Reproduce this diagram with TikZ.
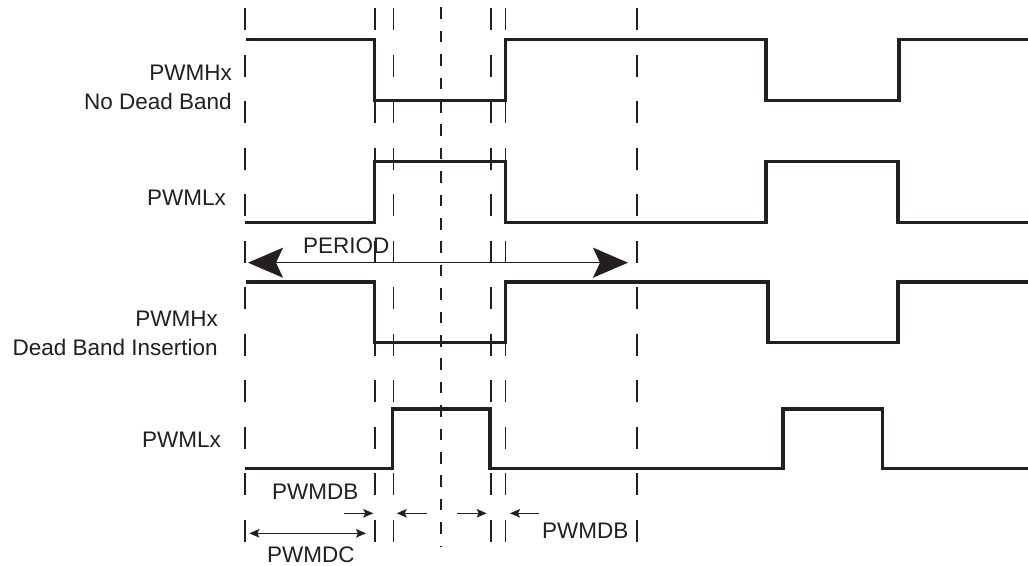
\documentclass[tikz,border=0pt]{standalone}
\usepackage{fontspec}
\setmainfont{Liberation Sans}
\usetikzlibrary{arrows.meta}
\definecolor{ink}{HTML}{231F20}
\tikzset{
  signal/.style={line width=3.2pt, ink},
  gridline/.style={line width=1.6pt, ink, dash pattern=on 22pt off 24.5pt},
  midline/.style={line width=1.6pt, ink, dash pattern=on 11.7pt off 11.7pt},
  label/.style={inner sep=0pt, text=ink, font=\fontsize{22.5pt}{29pt}\selectfont},
  dimarrow/.style={line width=1.5pt, ink, -{Stealth[length=10pt,width=8.5pt,inset=2pt]}},
  bothdim/.style={line width=1.5pt, ink, {Stealth[length=10pt,width=8.5pt,inset=2pt]}-{Stealth[length=10pt,width=8.5pt,inset=2pt]}},
  periodarrow/.style={line width=1.4pt, ink, {Stealth[length=35pt,width=30pt,inset=7pt]}-{Stealth[length=35pt,width=30pt,inset=7pt]}}
}
\begin{document}
\begin{tikzpicture}[x=1pt,y=-1pt]
        \useasboundingbox (0,0) rectangle (1028,565);
        \fill[white] (0,0) rectangle (1028,565);
        % dashed time marks
        \draw[gridline] (244.7,8) -- (244.7,542);
        \draw[gridline] (375,8) -- (375,542);
        \draw[gridline] (393.3,8) -- (393.3,542);
        \draw[gridline] (490.7,8) -- (490.7,542);
        \draw[gridline] (505.5,8) -- (505.5,542);
        \draw[gridline] (636.7,8) -- (636.7,542);
        \draw[midline] (441.2,7.3) -- (441.2,547);
        % PWMHx, no dead band
        \draw[signal] (246,39.3) -- (374.5,39.3) -- (374.5,100.5) -- (505.5,100.5) -- (505.5,39.3) -- (766,39.3) -- (766,100.5) -- (899,100.5) -- (899,39.3) -- (1030,39.3);
        % PWMLx, no dead band
        \draw[signal] (245,222.7) -- (374.5,222.7) -- (374.5,161.7) -- (505.5,161.7) -- (505.5,222.7) -- (766,222.7) -- (766,161.7) -- (898,161.7) -- (898,222.7) -- (1030,222.7);
        % PWMHx, dead band insertion
        \draw[signal] (246,282) -- (374.5,282) -- (374.5,342.5) -- (505.5,342.5) -- (505.5,282) -- (768,282) -- (768,342.5) -- (898,342.5) -- (898,282) -- (1030,282);
        % PWMLx, dead band insertion
        \draw[signal] (245,468.5) -- (392.3,468.5) -- (392.3,409) -- (490,409) -- (490,468.5) -- (783,468.5) -- (783,409) -- (882.5,409) -- (882.5,468.5) -- (1030,468.5);
        % labels
        \node[label, anchor=base east] (hxa) at (232,80) {PWMHx};
        \node[label, anchor=base east] (hxanote) at (232,109) {No Dead Band};
        \node[label, anchor=base east] (lxa) at (226,205) {PWMLx};
        \node[label, anchor=base east] (hxb) at (218,326.7) {PWMHx};
        \node[label, anchor=base east] (hxbnote) at (218,355) {Dead Band Insertion};
        \node[label, anchor=base east] (lxb) at (221,447) {PWMLx};
        % period
        \draw[periodarrow] (248,262.7) -- (628,262.7);
        \node[label, anchor=base west] (period) at (303,253) {PERIOD};
        % dead band and duty marks
        \draw[dimarrow] (344,513.3) -- (373.3,513.3);
        \draw[dimarrow] (426.7,513.3) -- (396.7,513.3);
        \draw[dimarrow] (457,513.3) -- (486.7,513.3);
        \draw[dimarrow] (539,513.3) -- (510,513.3);
        \draw[bothdim] (249.3,533.3) -- (366,533.3);
        \node[label, anchor=base west] (dba) at (272,499) {PWMDB};
        \node[label, anchor=base west] (dbb) at (542,538) {PWMDB};
        \node[label, anchor=base west] (dc) at (267,562) {PWMDC};
\end{tikzpicture}
\end{document}
